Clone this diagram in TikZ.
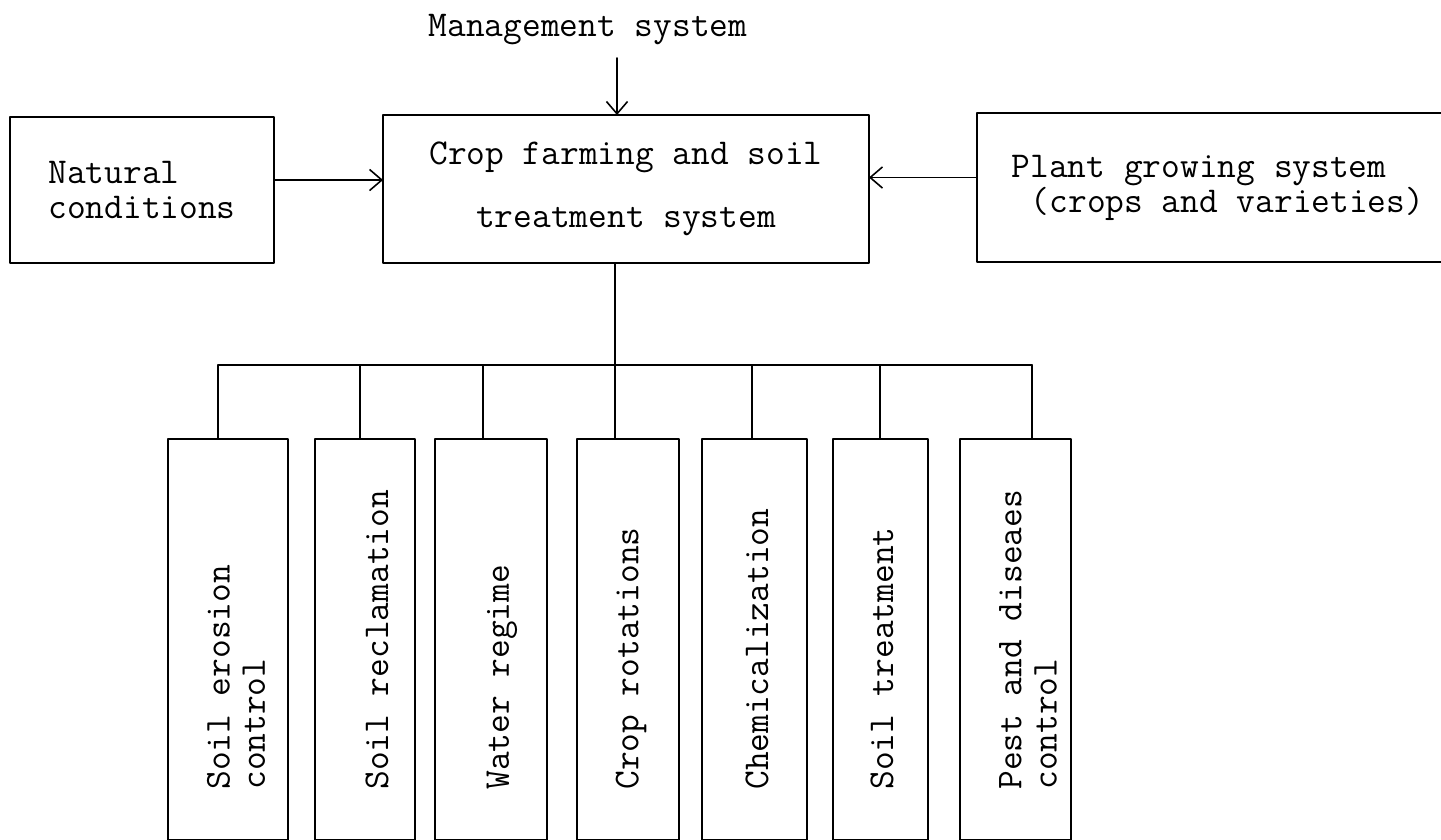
\documentclass[tikz,border=0pt]{standalone}
\usepackage{fontspec}
\usetikzlibrary{arrows.meta}
\begin{document}
\begin{tikzpicture}[x=0.02cm, y=-0.02cm, font=\ttfamily\fontsize{20.7}{20}\selectfont, line join=round, line cap=round, >={Straight Barb[length=7pt,width=12pt]},
	box/.style={draw, line width=1.2pt, inner sep=0pt, outer sep=0pt},
	link/.style={line width=0.9pt}]
	\useasboundingbox (0,0) rectangle (1441,839);
	\node[box, minimum width=5.28cm, minimum height=2.92cm, align=left] (nat) at (142,190) {Natural\\conditions};
	\node[box, minimum width=9.72cm, minimum height=2.96cm, align=center] (crop) at (626,189) {Crop farming and soil\\[0.56cm]treatment system};
	\node[box, minimum width=9.66cm, minimum height=2.98cm, align=left] (plant) at (1218,187.5) {Plant growing system\\\hspace*{0.525em}(crops and varieties)};
	\node (mgmt) at (588,30) {Management system};
	\coordinate (m) at (617,58);
	\draw[link,->] (m) -- (m |- crop.north);
	\draw[link,->] ([yshift=0.2cm]nat.east) -- ([yshift=0.2cm]nat.east -| crop.west);
	\draw[link,->] ([yshift=0.2cm]plant.west) -- ([yshift=0.2cm]plant.west -| crop.east);
	\foreach \n/\l/\r/\t/\x/\txt in {1/168/288/218/236/{Soil erosion\\control}, 2/315/415/360/377/{Soil reclamation}, 3/435/547/483/502/{Water regime}, 4/577/679/615/631/{Crop rotations}, 5/702/807/752/757/{Chemicalization}, 6/833/928/880/882/{Soil treatment}, 7/960/1071/1032/1028/{Pest and diseaes\\control}}{
		\node[box, minimum width={(\r-\l)*0.02cm}, minimum height=8.02cm] (b\n) at ({(\l+\r)/2},639.5) {};
		\node[rotate=90, anchor=west, align=left, inner sep=0pt] (l\n) at (\x,790) {\txt};
		\coordinate (k\n) at (\t,365);
		\draw[link] (k\n) -- (k\n |- b\n.north);
	}
	\draw[link] (k1) -- (k7);
	\draw[link] (crop.south -| k4) -- (k4);
\end{tikzpicture}
\end{document}
